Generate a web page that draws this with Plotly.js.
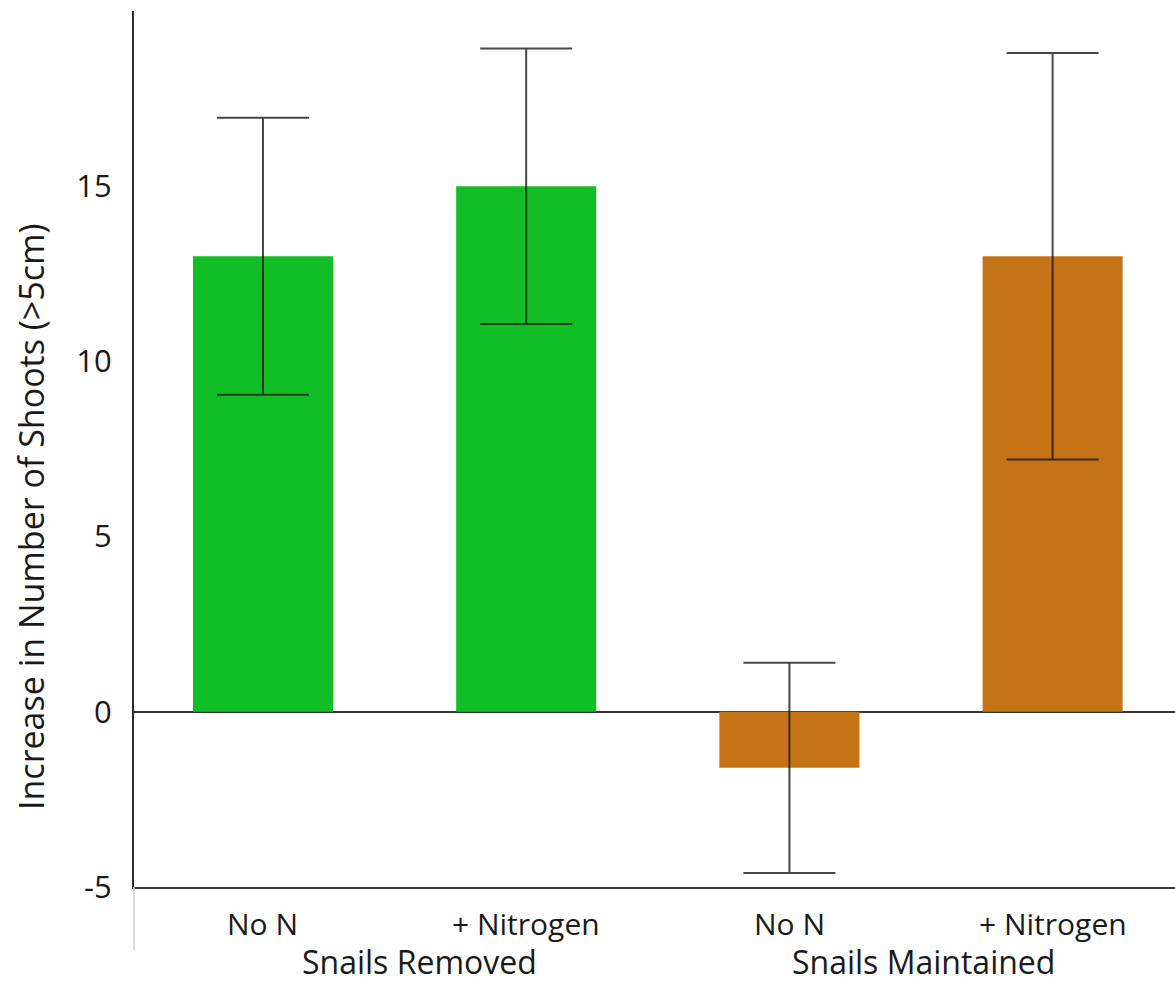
<!DOCTYPE html>
<html>
<head>
<meta charset="utf-8">
<script src="https://cdn.plot.ly/plotly-3.0.1.min.js"></script>
<style>html,body{margin:0;padding:0;background:#fff;}#chart{width:1175px;height:984px;}</style>
</head>
<body>
<div id="chart"></div>
<script>
var positions = [0, 1, 2, 3];
var subLabels = ["No N", "+ Nitrogen", "No N", "+ Nitrogen"];
var groupLabels = ["Snails Removed", "Snails Maintained"];
var groupCenters = [0.595, 2.51];
var values = [13.0, 15.0, -1.6, 13.0];
var errors = [3.95, 3.93, 3.0, 5.8];
var barColors = ["#12BE26", "#12BE26", "#C47316", "#C47316"];
var yTicks = [-5, 0, 5, 10, 15];
var yTitle = "Increase in Number of Shoots (>5cm)";

var FONT = "Open Sans, sans-serif";
var TXT = "#1a1a1a";
var xr = [-0.49, 3.465];
function toPaper(v) { return (v - xr[0]) / (xr[1] - xr[0]); }

var trace = {
  type: "bar",
  x: positions,
  y: values,
  width: 0.532,
  marker: {color: barColors, line: {width: 0}},
  error_y: {type: "data", array: errors, visible: true, color: "rgba(25,25,25,0.8)", thickness: 2, width: 46},
  hoverinfo: "skip"
};

var annotations = [];
for (var i = 0; i < positions.length; i++) {
  annotations.push({x: positions[i], xref: "x", y: -0.042, yref: "paper", text: subLabels[i], showarrow: false,
    xanchor: "center", yanchor: "middle", font: {family: FONT, size: 30, color: TXT}});
}
for (var g = 0; g < groupLabels.length; g++) {
  annotations.push({x: toPaper(groupCenters[g]), xref: "paper", y: -0.0855, yref: "paper", text: groupLabels[g], showarrow: false,
    xanchor: "center", yanchor: "middle", borderpad: 0, font: {family: FONT, size: 32, color: TXT}});
}
annotations.push({x: (31 - 134) / 1041, xref: "paper", y: (887 - 517) / 876, yref: "paper", text: yTitle, showarrow: false, textangle: -90,
  xanchor: "center", yanchor: "middle", font: {family: FONT, size: 34, color: TXT}});

var layout = {
  width: 1175, height: 984,
  margin: {l: 134, r: 0, t: 11, b: 97},
  paper_bgcolor: "#fff", plot_bgcolor: "#fff",
  showlegend: false,
  xaxis: {range: xr, showgrid: false, zeroline: false, showticklabels: false, ticks: "",
    showline: true, linecolor: "#3a3a3a", linewidth: 2, fixedrange: true},
  yaxis: {range: [-5, 20], tickvals: yTicks, ticktext: yTicks.map(String), showgrid: false,
    zeroline: true, zerolinecolor: "#333", zerolinewidth: 2,
    showline: true, linecolor: "#2a2a2a", linewidth: 2, ticks: "", ticklabelstandoff: 14,
    tickfont: {family: FONT, size: 31, color: TXT}, fixedrange: true},
  shapes: [{type: "line", xref: "paper", yref: "paper", x0: 0, x1: 0, y0: 0, y1: -0.072,
    line: {color: "#cfcfcf", width: 1.5}}],
  annotations: annotations
};

Plotly.newPlot("chart", [trace], layout, {displayModeBar: false, staticPlot: true});
</script>
</body>
</html>
